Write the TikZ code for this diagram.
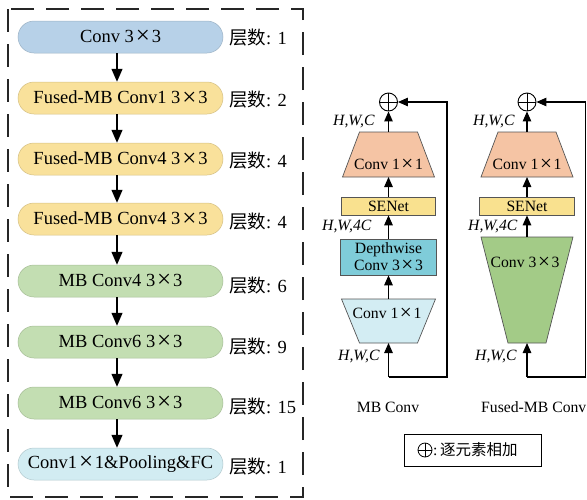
\documentclass[tikz,border=0pt]{standalone}
\usepackage{fontspec}
\usepackage{graphicx}
\setmainfont{Liberation Serif}
\newfontfamily\cjk{Noto Sans CJK SC}
\usetikzlibrary{arrows.meta,calc}

% wide multiplication sign, about one em across
\newcommand\mul{\kern0.1em\raisebox{-0.08em}{\scalebox{1.35}{×}}\kern0.1em}

\definecolor{pillblue}{HTML}{B7D1E8}
\definecolor{pillyellow}{HTML}{F9E19B}
\definecolor{pillgreen}{HTML}{C3DEB2}
\definecolor{pillcyan}{HTML}{D2ECF2}
\definecolor{salmon}{HTML}{F5C4A4}
\definecolor{seyellow}{HTML}{F9E18F}
\definecolor{dwcyan}{HTML}{7FCCD9}
\definecolor{lightcyan}{HTML}{D3EDF3}
\definecolor{fgreen}{HTML}{A3CB87}
\definecolor{edge}{HTML}{555555}

\tikzset{
  pill/.style={rounded corners=16pt, minimum width=205pt, minimum height=32pt,
    inner sep=0pt, draw=#1!85!black, line width=0.5pt, fill=#1,
    font=\fontsize{18.5}{20}\selectfont},
  layers/.style={anchor=west, inner sep=0pt, font=\fontsize{18.5}{20}\selectfont},
  bigarrow/.style={line width=1.3pt, -{Triangle[length=13pt,width=11pt]}},
  arrs/.style={line width=1.2pt, -{Triangle[length=10pt,width=8.5pt]}},
  block/.style={draw=edge, line width=0.7pt, inner sep=0pt,
    font=\fontsize{15.7}{17.5}\selectfont, align=center},
  shapeedge/.style={draw=edge, line width=0.7pt},
  small/.style={inner sep=0pt, font=\fontsize{15.7}{16.5}\selectfont},
  dim/.style={small, anchor=west, font=\fontsize{15.7}{16.5}\selectfont\itshape},
  oplus/.style={circle, draw, line width=0.9pt, inner sep=0pt, minimum size=#1,
    path picture={\draw[line width=0.9pt]
      (path picture bounding box.north) -- (path picture bounding box.south)
      (path picture bounding box.west) -- (path picture bounding box.east);}},
}

\begin{document}
\begin{tikzpicture}[x=1pt, y=-1pt]
\useasboundingbox (0,0) rectangle (587,499);

% ---------- overall network ----------
\draw[draw=black!85, line width=1.7pt, dash pattern=on 23pt off 12pt] (8,9) rectangle (303,497);

\node[pill=pillblue]   (p1) at (120.5,37)  {Conv 3\mul3};
\node[pill=pillyellow] (p2) at (120.5,98)  {Fused-MB Conv1 3\mul3};
\node[pill=pillyellow] (p3) at (120.5,159) {Fused-MB Conv4 3\mul3};
\node[pill=pillyellow] (p4) at (120.5,219) {Fused-MB Conv4 3\mul3};
\node[pill=pillgreen]  (p5) at (120.5,281) {MB Conv4 3\mul3};
\node[pill=pillgreen]  (p6) at (120.5,342) {MB Conv6 3\mul3};
\node[pill=pillgreen]  (p7) at (120.5,403) {MB Conv6 3\mul3};
\node[pill=pillcyan]   (p8) at (120.5,464) {Conv1\mul1\&Pooling\&FC};

\foreach \a/\b in {p1/p2,p2/p3,p3/p4,p4/p5,p5/p6,p6/p7,p7/p8}
  \draw[bigarrow] ([xshift=-3.5pt]\a.south) -- ([xshift=-3.5pt]\b.north);

\node[layers] (n1) at (229,38)  {{\cjk 层数}: 1};
\node[layers] (n2) at (229,100) {{\cjk 层数}: 2};
\node[layers] (n3) at (229,161) {{\cjk 层数}: 4};
\node[layers] (n4) at (229,222) {{\cjk 层数}: 4};
\node[layers] (n5) at (229,286) {{\cjk 层数}: 6};
\node[layers] (n6) at (229,347) {{\cjk 层数}: 9};
\node[layers] (n7) at (229,407) {{\cjk 层数}: 15};
\node[layers] (n8) at (229,467) {{\cjk 层数}: 1};

% ---------- MB Conv block ----------
\node[oplus=18pt] (c1) at (388.5,102) {};
\fill[salmon] (359.5,132) -- (417.5,132) -- (434.5,177) -- (342.5,177) -- cycle;
\draw[shapeedge] (359.5,132) -- (417.5,132) -- (434.5,177) -- (342.5,177) -- cycle;
\node[small] (t1) at (388.5,165) {Conv 1\mul1};
\node[block, fill=seyellow, minimum width=94pt, minimum height=18pt] (s1) at (388.5,206) {SENet};
\node[block, fill=dwcyan, minimum width=96pt, minimum height=36pt] (d1) at (388.5,257)
  {Depthwise\\Conv 3\mul3};
\fill[lightcyan] (341.5,299) -- (435.5,299) -- (417.5,343) -- (359.5,343) -- cycle;
\draw[shapeedge] (341.5,299) -- (435.5,299) -- (417.5,343) -- (359.5,343) -- cycle;
\node[small] (l1) at (387,314) {Conv 1\mul1};

\coordinate (t1top) at (388.5,132);
\coordinate (t1bot) at (388.5,177);
\coordinate (l1top) at (388.5,299);
\coordinate (l1bot) at (388.5,343);
\coordinate (in1)   at (388.5,377);
\coordinate (sk1)   at (447,102);

\draw[arrs] (t1top) -- (c1.south);
\draw[arrs] (s1.north) -- (t1bot);
\draw[arrs] (d1.north) -- (s1.south);
\draw[arrs] (l1top) -- (d1.south);
\draw[arrs] (in1) -- (l1bot);
\draw[arrs] (in1) -| (sk1) -- (c1.east);

\node[dim] (h1) at (333,122) {H,W,C};
\node[dim] (h2) at (322,227) {H,W,4C};
\node[dim] (h3) at (338,357) {H,W,C};
\node[small] (cap1) at (388,407) {MB Conv};

% ---------- Fused-MB Conv block ----------
\node[oplus=18pt] (c2) at (527,102) {};
\fill[salmon] (498,132) -- (556,132) -- (573,177) -- (481,177) -- cycle;
\draw[shapeedge] (498,132) -- (556,132) -- (573,177) -- (481,177) -- cycle;
\node[small] (t2) at (527,165) {Conv 1\mul1};
\node[block, fill=seyellow, minimum width=95pt, minimum height=18pt] (s2) at (527,206) {SENet};
\fill[fgreen] (481,237) -- (573,237) -- (546,343) -- (508,343) -- cycle;
\draw[shapeedge] (481,237) -- (573,237) -- (546,343) -- (508,343) -- cycle;
\node[small] (f2) at (525,263) {Conv 3\mul3};

\coordinate (t2top) at (527,132);
\coordinate (t2bot) at (527,177);
\coordinate (f2top) at (527,237);
\coordinate (f2bot) at (527,343);
\coordinate (in2)   at (527,377);
\coordinate (sk2)   at (585.8,102);

\draw[arrs] (t2top) -- (c2.south);
\draw[arrs] (s2.north) -- (t2bot);
\draw[arrs] (f2top) -- (s2.south);
\draw[arrs] (in2) -- (f2bot);
\draw[arrs] (in2) -| (sk2) -- (c2.east);

\node[dim] (h4) at (473,122) {H,W,C};
\node[dim] (h5) at (468,227) {H,W,4C};
\node[dim] (h6) at (475,357) {H,W,C};
\node[small, anchor=west] (cap2) at (481,407) {Fused-MB Conv};

% ---------- legend ----------
\node[draw, line width=1pt, minimum width=137pt, minimum height=32pt] (lg) at (472.5,450) {};
\node[oplus=14pt, line width=0.8pt] (lgsym) at (425,450) {};
\node[small, anchor=west] (lgtxt) at (433,450) {:\,{\cjk\fontsize{15.5}{16}\selectfont 逐元素相加}};
\end{tikzpicture}
\end{document}
